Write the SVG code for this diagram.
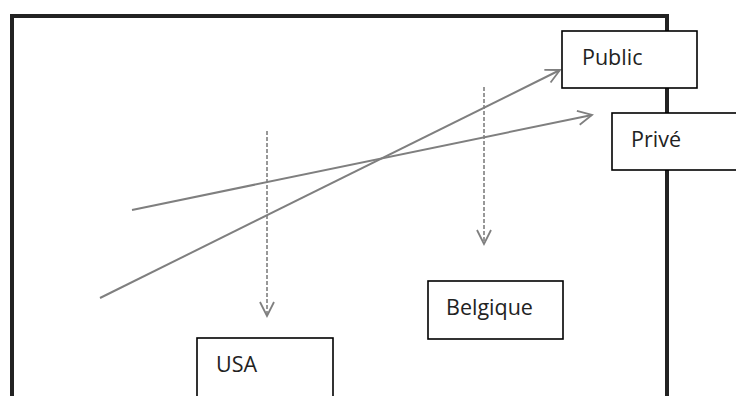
<svg xmlns="http://www.w3.org/2000/svg" width="736" height="396" viewBox="0 0 736 396">
<style>
.box{fill:#fff;stroke:#000;stroke-width:1.6}
.lbl{font-family:"Open Sans","Liberation Sans",sans-serif;font-size:21.5px;fill:#222}
.ln{stroke:#7f7f7f;stroke-width:2;fill:none}
.dash{stroke:#7f7f7f;stroke-width:1.6;stroke-dasharray:4 2;fill:none}
</style>
<defs>
<marker id="ah" viewBox="0 0 20 20" refX="18" refY="10" markerWidth="20" markerHeight="20" markerUnits="userSpaceOnUse" orient="auto">
<path d="M4 3 L18 10 L4 17" fill="none" stroke="#7f7f7f" stroke-width="1.8"/>
</marker>
</defs>
<rect width="736" height="396" fill="#fff"/>
<path id="frame" d="M12 400 V16 H667 V400" fill="none" stroke="#222" stroke-width="4"/>
<g id="connectors">
<line class="ln" x1="100" y1="298" x2="560" y2="70" marker-end="url(#ah)"/>
<line class="ln" x1="132" y1="210" x2="592" y2="115" marker-end="url(#ah)"/>
<line class="dash" x1="267" y1="131" x2="267" y2="316" marker-end="url(#ah)"/>
<line class="dash" x1="484" y1="87" x2="484" y2="244" marker-end="url(#ah)"/>
</g>
<g id="public"><rect class="box" x="562" y="31" width="135" height="57"/><text class="lbl" x="582" y="65">Public</text></g>
<g id="prive"><rect class="box" x="612" y="113" width="130" height="57"/><text class="lbl" x="631" y="147">Privé</text></g>
<g id="belgique"><rect class="box" x="428" y="281" width="135" height="58"/><text class="lbl" x="446" y="315">Belgique</text></g>
<g id="usa"><rect class="box" x="197" y="338" width="136" height="70"/><text class="lbl" x="216" y="372">USA</text></g>
</svg>
